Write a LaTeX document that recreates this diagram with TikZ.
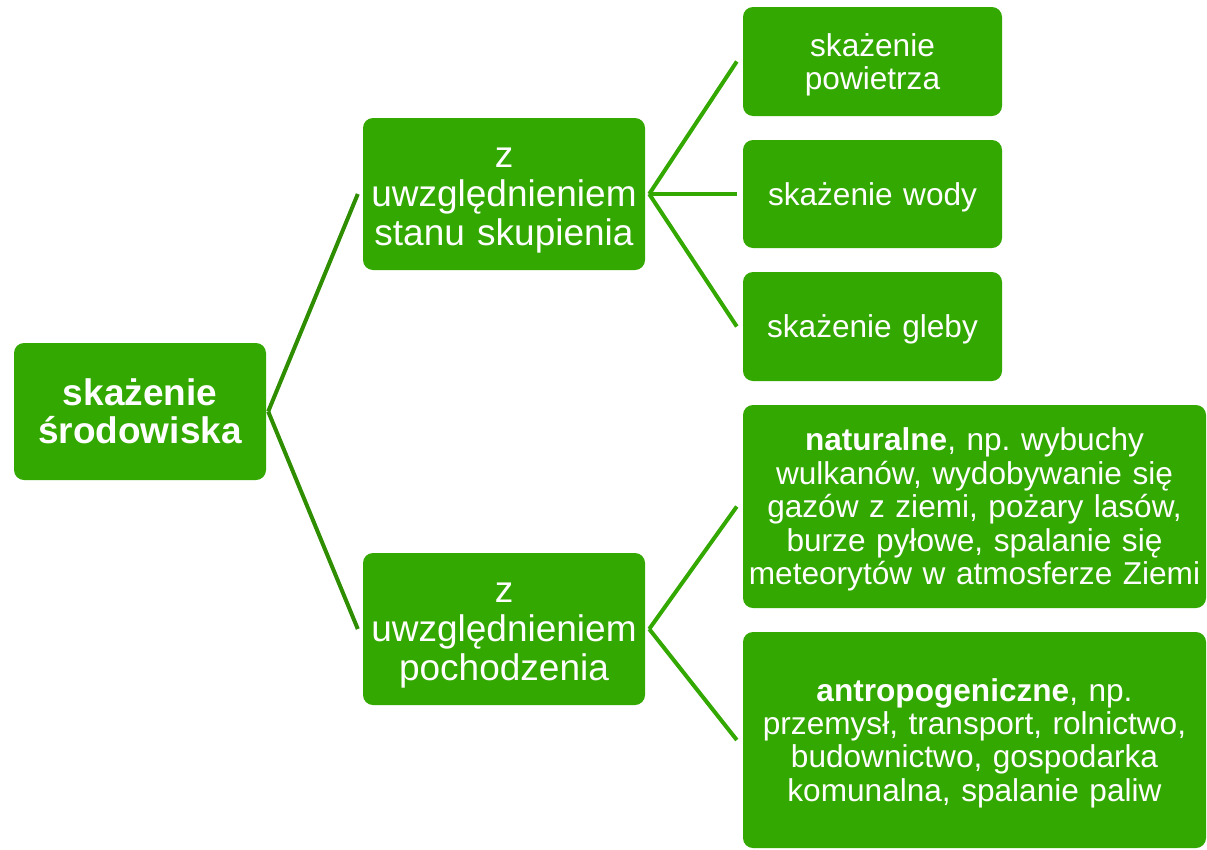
\documentclass[tikz,border=0pt]{standalone}
\usepackage{fontspec}
\setmainfont{Liberation Sans}
\usetikzlibrary{calc}
\definecolor{boxgreen}{HTML}{33A800}
\definecolor{linkdark}{HTML}{2E8E00}
\tikzset{
  gbox/.style={draw=none, fill=boxgreen, rounded corners=10pt, inner sep=0pt, align=center, text=white},
  rootbox/.style={gbox, font=\fontsize{37}{38.5}\selectfont\bfseries\frenchspacing},
  midbox/.style={gbox, font=\fontsize{37}{39}\selectfont\frenchspacing, execute at begin node={\rule{0pt}{33pt}}},
  leafbox/.style={gbox, font=\fontsize{31.6}{33.4}\selectfont\frenchspacing, execute at begin node={\rule{0pt}{29pt}}},
  rootlink/.style={draw=linkdark, line width=4pt},
  leaflink/.style={draw=boxgreen, line width=4pt},
}
\begin{document}
\begin{tikzpicture}[x=1pt,y=-1pt]
\useasboundingbox (0,0) rectangle (1207,849);
\node[rootbox, text width=252pt, minimum height=137pt] (root) at (140,411.5) {skażenie\\środowiska};
\node[midbox, text width=282pt, minimum height=152pt] (a) at (504,194) {z\\uwzględnieniem\\stanu skupienia};
\node[midbox, text width=282pt, minimum height=152pt] (b) at (504,629) {z\\uwzględnieniem\\pochodzenia};
\node[leafbox, text width=259pt, minimum height=109pt] (a1) at (872.5,61.5) {skażenie\\powietrza};
\node[leafbox, text width=259pt, minimum height=108pt] (a2) at (872.5,194) {skażenie wody};
\node[leafbox, text width=259pt, minimum height=109pt] (a3) at (872.5,326.5) {skażenie gleby};
\node[leafbox, text width=463pt, minimum height=203pt] (b1) at (974.5,506.5) {\textbf{naturalne}, np. wybuchy\\wulkanów, wydobywanie się\\gazów z ziemi, pożary lasów,\\burze pyłowe, spalanie się\\meteorytów w atmosferze Ziemi};
\node[leafbox, text width=463pt, minimum height=216pt] (b2) at (974.5,740) {\textbf{antropogeniczne}, np.\\przemysł, transport, rolnictwo,\\budownictwo, gospodarka\\komunalna, spalanie paliw};
\draw[rootlink] ($(root.east)+(2,0)$) -- ($(a.west)+(-5,0)$);
\draw[rootlink] ($(root.east)+(2,0)$) -- ($(b.west)+(-5,0)$);
\draw[leaflink] ($(a.east)+(4,0)$) -- ($(a1.west)+(-6,0)$);
\draw[leaflink] ($(a.east)+(4,0)$) -- ($(a2.west)+(-6,0)$);
\draw[leaflink] ($(a.east)+(4,0)$) -- ($(a3.west)+(-6,0)$);
\draw[leaflink] ($(b.east)+(4,0)$) -- ($(b1.west)+(-6,0)$);
\draw[leaflink] ($(b.east)+(4,0)$) -- ($(b2.west)+(-6,0)$);
\end{tikzpicture}
\end{document}
